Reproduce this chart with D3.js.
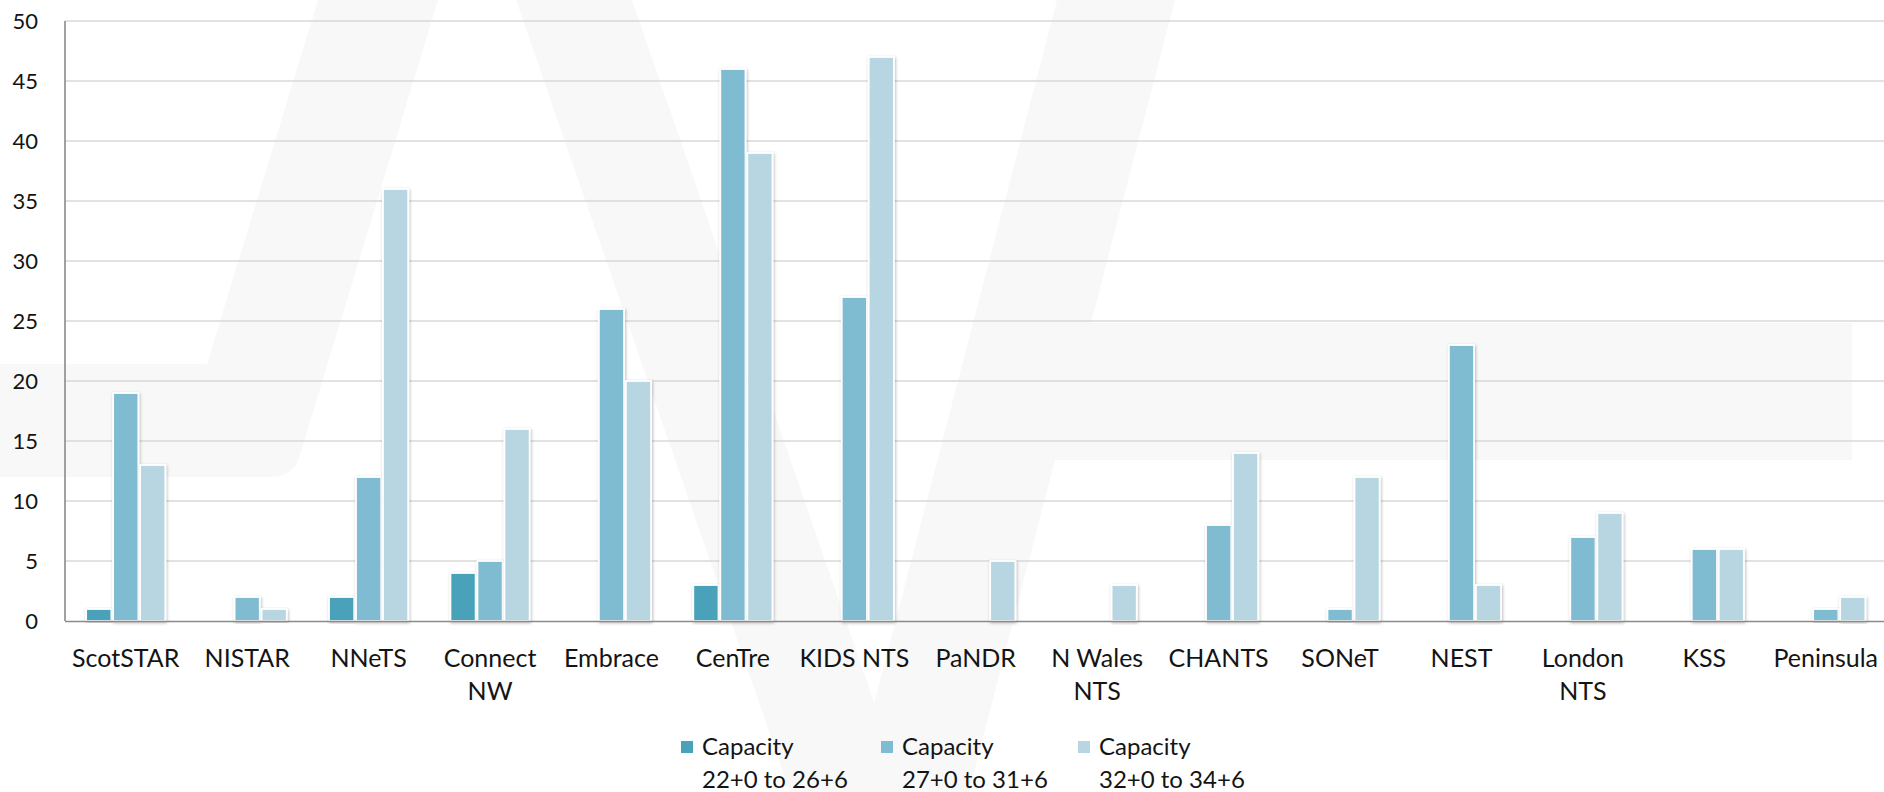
<!DOCTYPE html>
<html>
<head>
<meta charset="utf-8">
<script src="https://cdn.jsdelivr.net/npm/d3@7"></script>
<style>
  html, body { margin: 0; padding: 0; background: #ffffff; overflow: hidden; }
  svg { display: block; }
  text { font-family: Lato, "Open Sans", sans-serif; fill: #141414; }
</style>
</head>
<body>
<svg id="chart" width="1884" height="792"></svg>
<script>
// ---- data ----
const categories = ["ScotSTAR", "NISTAR", "NNeTS", "Connect\nNW", "Embrace", "CenTre", "KIDS NTS", "PaNDR", "N Wales\nNTS", "CHANTS", "SONeT", "NEST", "London\nNTS", "KSS", "Peninsula"];
const seriesNames = ["Capacity\n22+0 to 26+6", "Capacity\n27+0 to 31+6", "Capacity\n32+0 to 34+6"];
const cap22to26 = [1, 0, 2, 4, 0, 3, 0, 0, 0, 0, 0, 0, 0, 0, 0];
const cap27to31 = [19, 2, 12, 5, 26, 46, 27, 0, 0, 8, 1, 23, 7, 6, 1];
const cap32to34 = [13, 1, 36, 16, 20, 39, 47, 5, 3, 14, 12, 3, 9, 6, 2];
const yTicks = [0, 5, 10, 15, 20, 25, 30, 35, 40, 45, 50];
const seriesColors = ["#48a2ba", "#7fbbd1", "#b7d6e1"];

const seriesValues = [cap22to26, cap27to31, cap32to34];

// ---- layout ----
const svg = d3.select("#chart");
const plot = { left: 65, right: 1886.5, top: 21, bottom: 621 };

// shadow filter
const defs = svg.append("defs");
const f = defs.append("filter").attr("id", "shadow").attr("x", "-30%").attr("y", "-10%").attr("width", "160%").attr("height", "120%");
f.append("feDropShadow").attr("dx", 0.8).attr("dy", 1.2).attr("stdDeviation", 1.4)
  .attr("flood-color", "#000").attr("flood-opacity", 0.28);

// faint background watermark
const wm = svg.append("g").attr("fill", "#f4f4f4").attr("opacity", 0.6);
wm.append("path").attr("d", "M318,0 L438,0 L300,455 Q294,477 270,477 L0,477 L0,364 L207,364 Z");
wm.append("path").attr("d", "M516,0 L632,0 L905,792 L790,792 Z");
wm.append("path").attr("d", "M1057,0 L1175,0 L1091,323 L1852,323 L1852,460 L1055,460 L969,792 L851,792 Z");

const x0 = d3.scaleBand().domain(categories).range([plot.left, plot.right])
  .paddingInner(0.333).paddingOuter(0.1667);
const x1 = d3.scaleBand().domain(d3.range(seriesValues.length)).range([0, x0.bandwidth()]).padding(0);
const y = d3.scaleLinear().domain([0, 50]).range([plot.bottom, plot.top]);

// gridlines
svg.append("g").selectAll("line").data(yTicks.filter(d => d > 0)).join("line")
  .attr("x1", plot.left).attr("x2", 1884)
  .attr("y1", d => y(d)).attr("y2", d => y(d))
  .attr("stroke", "#d9d9d9").attr("stroke-width", 1.6);

// y axis labels
const yAxis = d3.axisLeft(y).tickValues(yTicks).tickSize(0).tickPadding(0);
const yg = svg.append("g").attr("transform", `translate(${plot.left - 27},0)`).call(yAxis);
yg.select(".domain").remove();
yg.selectAll("text").style("font-size", "22px").attr("fill", "#141414").attr("dy", "0.36em")
  .style("font-family", "Lato, 'Open Sans', sans-serif");

// bars
const groups = svg.append("g").selectAll("g").data(categories).join("g")
  .attr("transform", d => `translate(${x0(d)},0)`);
groups.selectAll("rect")
  .data((c, i) => seriesValues.map((vals, s) => ({ s, v: vals[i] })).filter(d => d.v > 0))
  .join("rect")
  .attr("x", d => x1(d.s) + 0.9)
  .attr("width", x1.bandwidth() - 1.8)
  .attr("y", d => y(d.v))
  .attr("height", d => y(0) - y(d.v))
  .attr("fill", d => seriesColors[d.s])
  .attr("stroke", "#ffffff").attr("stroke-width", 1.8)
  .attr("filter", "url(#shadow)");

// axes lines
svg.append("line").attr("x1", plot.left).attr("x2", plot.left).attr("y1", plot.top).attr("y2", plot.bottom)
  .attr("stroke", "#8a8a8a").attr("stroke-width", 1.6);
svg.append("line").attr("x1", plot.left).attr("x2", 1884).attr("y1", plot.bottom + 0.5).attr("y2", plot.bottom + 0.5)
  .attr("stroke", "#8a8a8a").attr("stroke-width", 1.6);

// x axis labels
const xAxis = d3.axisBottom(x0).tickSize(0).tickFormat("");
const xg = svg.append("g").attr("transform", `translate(0,${plot.bottom})`).call(xAxis);
xg.select(".domain").remove();
xg.selectAll(".tick").each(function(d) {
  const t = d3.select(this).append("text")
    .attr("text-anchor", "middle")
    .style("font-size", "25px").attr("fill", "#141414");
  d.split("\n").forEach((line, i) => {
    t.append("tspan").attr("x", 0).attr("y", 46 + i * 33).text(line);
  });
});

// legend
const legendX = [681, 881, 1078];
const lg = svg.append("g").selectAll("g").data(seriesNames).join("g")
  .attr("transform", (d, i) => `translate(${legendX[i]},0)`);
lg.append("rect").attr("x", 0).attr("y", 741).attr("width", 12).attr("height", 12)
  .attr("fill", (d, i) => seriesColors[i]);
lg.append("text").style("font-size", "24px").each(function(d) {
  d.split("\n").forEach((line, i) => {
    d3.select(this).append("tspan").attr("x", 21).attr("y", 755 + i * 33).text(line);
  });
});
</script>
</body>
</html>
